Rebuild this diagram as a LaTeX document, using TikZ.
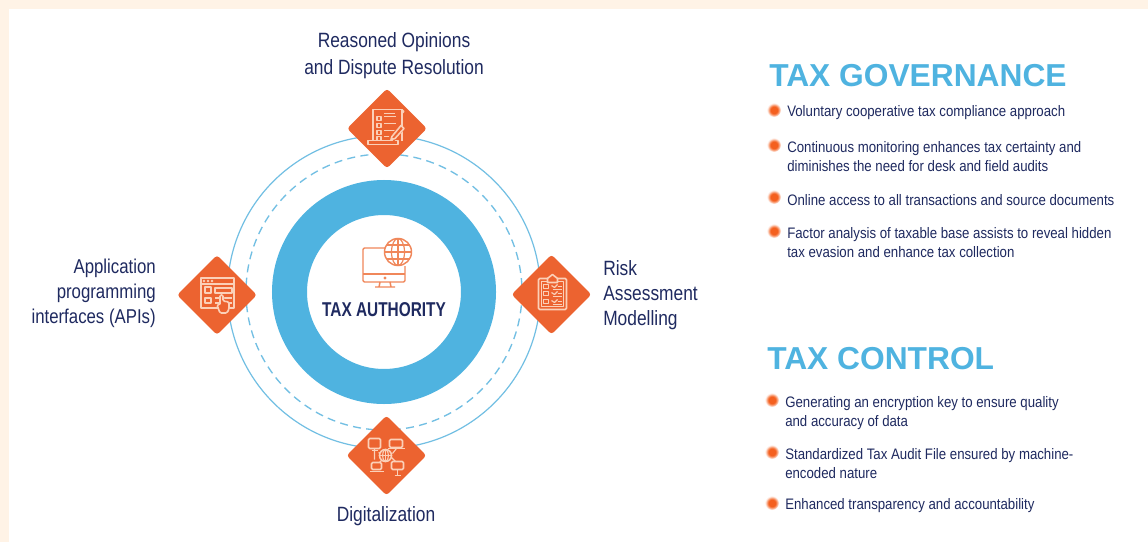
\documentclass[tikz,border=0pt]{standalone}
\usepackage{fontspec}
\setmainfont[FakeStretch=0.84]{Liberation Sans}
\newfontfamily\headfont{Liberation Sans}
\newfontfamily\hubfont[FakeStretch=0.77]{Liberation Sans}
\newfontfamily\itemfont[FakeStretch=0.87]{Liberation Sans}
\usetikzlibrary{calc}
\definecolor{pagec}{HTML}{FFF3E6}
\definecolor{hubblue}{HTML}{4FB3E0}
\definecolor{thinblue}{HTML}{72BFE3}
\definecolor{diamondc}{HTML}{EC6330}
\definecolor{dotc}{HTML}{F4601F}
\definecolor{iconc}{HTML}{FBD0B8}
\definecolor{hubicon}{HTML}{F0875A}
\definecolor{navy}{HTML}{1F2A60}
\pgfdeclareradialshading{softdot}{\pgfpointorigin}{color(0bp)=(dotc);color(13bp)=(dotc);color(19bp)=(dotc!50!white);color(25bp)=(white);color(50bp)=(white)}
\tikzset{
  diamondbox/.style={rectangle,rotate=45,fill=diamondc,minimum size=42.2pt,inner sep=0pt,rounded corners=2.2pt},
  spoke/.style={text=navy,font=\fontsize{15.5pt}{18.75pt}\selectfont,inner sep=0pt,align=#1},
  spoke/.default=center,
  headline/.style={text=hubblue,font=\headfont\bfseries\fontsize{23.8pt}{28pt}\selectfont,inner sep=0pt,anchor=base west},
  item/.style={text=navy,font=\itemfont\fontsize{11.4pt}{14.2pt}\selectfont,inner sep=0pt,anchor=west,align=left},
  dot/.style={circle,shading=softdot,minimum size=10.5pt,inner sep=0pt},
  ico/.style={draw=iconc,line width=0.85pt,line join=round},
  ico2/.style={draw=iconc,line width=1.2pt,line join=round},
  hico/.style={draw=hubicon,line width=1.1pt,line join=round}
}
\begin{document}
\begin{tikzpicture}[x=0.75pt,y=-0.75pt]
\useasboundingbox (0,0) rectangle (1148,542);
\fill[pagec] (0,0) rectangle (1148,542);
\fill[white] (9,9) rectangle (1148,542);
\coordinate (hub) at (384,292);
\draw[thinblue,line width=0.9pt] (hub) circle [radius=156.5];
\draw[thinblue,line width=1pt,dash pattern=on 6pt off 4pt] (hub) circle [radius=138];
\node[circle,draw=hubblue,line width=26.25pt,minimum size=141.75pt,inner sep=0pt,outer sep=0pt] (ring) at (hub) {};
\node[text=navy,font=\hubfont\bfseries\fontsize{15pt}{18pt}\selectfont,inner sep=0pt] (hubtext) at (384,310) {TAX AUTHORITY};

% hub icon
\draw[hico,rounded corners=1pt] (386,248) -- (363,248) -- (363,282) -- (405,282) -- (405,266);
\draw[hico] (363,274) -- (405,274);
\fill[hubicon] (385,278) circle [radius=1.6];
\draw[hico] (380,282) -- (379,287) (390,282) -- (391,287) (375,287) -- (395,287);
\draw[hico,fill=white] (398,252) circle [radius=13.5];
\draw[hico,line width=0.9pt] (398,238.5) -- (398,265.5) (384.5,252) -- (411.5,252)
  (386.5,245) -- (409.5,245) (386.5,259) -- (409.5,259);
\draw[hico,line width=0.9pt] (398,252) ellipse [x radius=6.5,y radius=13.5];

% diamonds
\node[diamondbox] (dtop) at (387,128.5) {};
\node[diamondbox] (dleft) at (217,295) {};
\node[diamondbox] (dright) at (551.5,294.5) {};
\node[diamondbox] (dbottom) at (386.5,455.5) {};

% top icon: document and pencil
\begin{scope}[shift={(dtop.center)},x=0.75pt,y=-0.75pt]
\draw[ico2] (-14,12) -- (-14,-19) -- (15,-19) -- (15,12);
\draw[ico] (15,-19) -- (17,-17) -- (15,-15);
\draw[ico2] (-19,12) -- (11,12) -- (11,16) -- (-19,16) -- cycle;
\foreach \yy in {-12,-5,2,8}{
  \draw[ico] (-10,\yy) rectangle (-6,\yy+4);
  \draw[ico2] (-3,\yy) -- (9,\yy);
}
\draw[ico2] (-3,-15) -- (8,-15);
\fill[diamondc] (2,8) -- (13,-4) -- (18,0) -- (7,13) -- cycle;
\draw[ico2] (5,8) -- (14,-3) -- (17,0) -- (8,10) -- (4,11) -- cycle;
\end{scope}

% left icon: browser window and hand
\begin{scope}[shift={(dleft.center)},x=0.75pt,y=-0.75pt]
\draw[ico2] (-16,-17) rectangle (17,13);
\draw[ico] (-16,-11) -- (17,-11);
\foreach \xx in {-13,-9,-5}{\fill[iconc] (\xx,-14) circle [radius=1.4];}
\draw[ico] (-12,-8) rectangle (-6,-2);
\draw[ico] (-12,3) rectangle (-6,8);
\draw[ico] (-2,-7) rectangle (15,-2);
\draw[ico] (-2,3) -- (15,3) (-2,8) -- (15,8);
\fill[diamondc,rounded corners=1pt] (2,-1) -- (7,-1) -- (7,5) -- (12,5) -- (12,18) -- (2,18) -- cycle;
\draw[ico2,rounded corners=1pt] (3,9) -- (3,0) -- (6,0) -- (6,6) -- (12,7) -- (12,14) -- (10,18) -- (3,18) -- (0,10) -- (3,9);
\end{scope}

% right icon: clipboard
\begin{scope}[shift={(dright.center)},x=0.75pt,y=-0.75pt]
\draw[ico2,rounded corners=1pt] (-13,-16) rectangle (15,15);
\draw[ico] (-10,-13) rectangle (12,12);
\fill[diamondc] (-4,-16.5) -- (1,-20) -- (6,-16.5) -- (6,-12) -- (-4,-12) -- cycle;
\draw[ico2] (-4,-12) -- (-4,-16) -- (1,-20) -- (6,-16) -- (6,-12) -- cycle;
\foreach \yy in {-8,-1,7}{
  \draw[ico] (-8,\yy-2) rectangle (-3,\yy+2);
  \draw[ico] (0,\yy-1) -- (3,\yy+1) -- (6,\yy-2);
  \draw[ico] (6,\yy) -- (10,\yy) (1,\yy+3) -- (10,\yy+3);
}
\end{scope}

% bottom icon: network
\begin{scope}[shift={(dbottom.center)},x=0.75pt,y=-0.75pt]
\draw[ico] (-12,-7) -- (-12,4) (-8,-3) -- (-4,-1) (10,-7) -- (6,-2) (-7,7) -- (-4,4) (9,6) -- (5,2);
\draw[ico2,rounded corners=1pt] (-18,-17) rectangle (-6,-7);
\draw[ico] (-15,-5) -- (-9,-5);
\draw[ico2,rounded corners=1pt] (3,-16) rectangle (16,-8);
\draw[ico2] (1,-7) -- (18,-7);
\draw[ico2,rounded corners=1pt] (-15,7) rectangle (-5,14);
\draw[ico2] (-17,16) -- (-3,16);
\draw[ico2,rounded corners=1pt] (5,6) rectangle (17,14);
\draw[ico] (11,14) -- (11,20) (8,20) -- (14,20);
\draw[ico2,fill=diamondc] (-1,0) circle [radius=6];
\draw[ico] (-7,0) -- (5,0) (-1,-6) -- (-1,6);
\draw[ico] (-1,0) ellipse [x radius=2.8,y radius=6];
\end{scope}

% spoke labels
\node[spoke,font=\fontsize{15.5pt}{20.25pt}\selectfont] (ltop) at (394,56) {Reasoned Opinions\\and Dispute Resolution};
\node[spoke=right,anchor=east,font=\fontsize{15pt}{18.75pt}\selectfont] (lleft) at (156,293) {Application\\programming\\interfaces (APIs)};
\node[spoke=left,anchor=west] (lright) at (603,295) {Risk\\Assessment\\Modelling};
\node[spoke] (lbottom) at (386,516) {Digitalization};

% right column
\node[headline] (gov) at (769,86) {TAX GOVERNANCE};
\node[headline] (ctl) at (767,369) {TAX CONTROL};

\node[dot] (g1) at (774,110) {};
\node[item] (gt1) at (787,113) {Voluntary cooperative tax compliance approach};
\node[dot] (g2) at (774,145) {};
\node[item] (gt2) at (787,157) {Continuous monitoring enhances tax certainty and\\diminishes the need for desk and field audits};
\node[dot] (g3) at (774,197) {};
\node[item] (gt3) at (787,200) {Online access to all transactions and source documents};
\node[dot] (g4) at (774,231) {};
\node[item] (gt4) at (787,243) {Factor analysis of taxable base assists to reveal hidden\\tax evasion and enhance tax collection};

\node[dot] (c1) at (772,400) {};
\node[item] (ct1) at (785,413) {Generating an encryption key to ensure quality\\and accuracy of data};
\node[dot] (c2) at (772,452) {};
\node[item] (ct2) at (785,464) {Standardized Tax Audit File ensured by machine-\\encoded nature};
\node[dot] (c3) at (772,503) {};
\node[item] (ct3) at (785,506) {Enhanced transparency and accountability};
\end{tikzpicture}
\end{document}
